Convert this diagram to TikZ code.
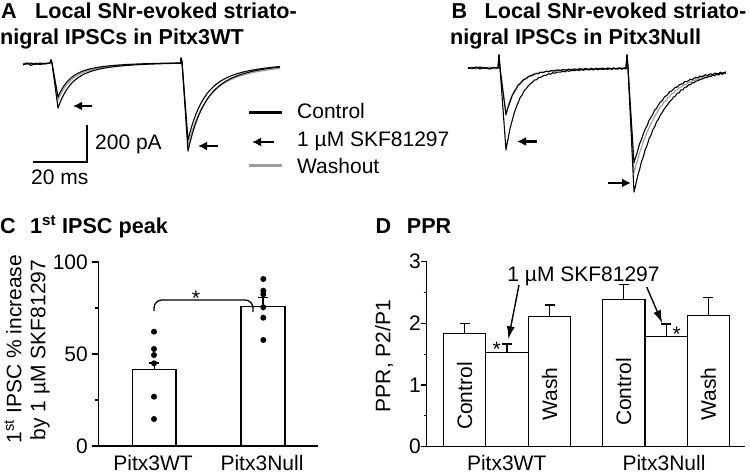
\documentclass[tikz,border=0pt]{standalone}
\usepackage{fontspec}
\setmainfont{Liberation Sans}
\usetikzlibrary{arrows.meta}
\begin{document}
\begin{tikzpicture}[x=1pt,y=-1pt,
  tx/.style={font=\fontsize{21}{24}\selectfont, inner sep=0pt},
  ttl/.style={font=\fontsize{21.6}{25}\selectfont\bfseries, inner sep=0pt, anchor=base west},
  axisline/.style={line width=1.3pt},
  barbox/.style={line width=1.3pt, draw=black, fill=white},
  errbar/.style={line width=1.3pt},
  trc/.style={line width=1.1pt, line join=round},
  wash/.style={trc, draw=black!38},
  bigarrow/.style={line width=2.6pt, -{Latex[length=9pt,width=9pt]}},
  thinarrow/.style={line width=1.4pt, -{Latex[length=13pt,width=8pt]}},
  scalebar/.style={line width=2.4pt}
]
\useasboundingbox (0,0) rectangle (750,473);

% ---------- Panel A ----------
\node[ttl] (lA) at (1,18.5) {A};
\node[ttl] (tA1) at (35,18.5) {Local SNr-evoked striato-};
\node[ttl] (tA2) at (0,45) {nigral IPSCs in Pitx3WT};

% traces A
\draw[wash] (23,64) -- (27,62.5) -- (31,64.5) -- (35,63) -- (40,64) -- (45,63) -- (50,63.5) -- (51,59) -- (52,63) -- (58,100)
  -- plot[domain=58:181,samples=60] (\x,{62.5+37.5*(0.65*exp(-(\x-58)/12)+0.35*exp(-(\x-58)/40))})
  -- (181,58) -- (182,62) -- (188,145)
  -- plot[domain=188:280,samples=50] (\x,{63.5+81.5*(0.65*exp(-(\x-188)/16)+0.35*exp(-(\x-188)/52))});
\draw[trc] (23,65) -- (27,63) -- (31,65.5) -- (35,63.5) -- (40,64.5) -- (45,63.5) -- (50,63) -- (51,60) -- (52,63) -- (58,97)
  -- plot[domain=58:181,samples=60] (\x,{62.5+34.5*(0.65*exp(-(\x-58)/11)+0.35*exp(-(\x-58)/38))})
  -- (181,58) -- (182,62) -- (188,140)
  -- plot[domain=188:280,samples=50] (\x,{62.5+77.5*(0.65*exp(-(\x-188)/14)+0.35*exp(-(\x-188)/48))});
\draw[trc] (23,64) -- (27,64) -- (31,63) -- (35,64.5) -- (40,63) -- (45,64) -- (50,63) -- (51,60) -- (52,63) -- (58,108)
  -- plot[domain=58:181,samples=60] (\x,{62.5+45.5*(0.65*exp(-(\x-58)/12)+0.35*exp(-(\x-58)/40))})
  -- (181,58) -- (182,62) -- (188,151)
  -- plot[domain=188:280,samples=50] (\x,{62+89*(0.65*exp(-(\x-188)/15)+0.35*exp(-(\x-188)/50))});

\coordinate (aA1s) at (92,106);  \coordinate (aA1e) at (73,106);
\coordinate (aA2s) at (218,146); \coordinate (aA2e) at (198,146);
\draw[bigarrow] (aA1s) -- (aA1e);
\draw[bigarrow] (aA2s) -- (aA2e);

% scale bar
\coordinate (sbT) at (87,125); \coordinate (sbC) at (87,162); \coordinate (sbL) at (33,162);
\draw[scalebar] (sbT) -- (sbC) -- (sbL);
\node[tx, anchor=base west] (sbV) at (95,150) {200 pA};
\node[tx, anchor=base west] (sbH) at (31,185) {20 ms};

% legend
\coordinate (lg1a) at (249,112.5); \coordinate (lg1b) at (282,112.5);
\draw[line width=2.2pt] (lg1a) -- (lg1b);
\node[tx, anchor=base west] (lgC) at (297,118.3) {Control};
\coordinate (lg2a) at (274,142); \coordinate (lg2b) at (252,142);
\draw[bigarrow] (lg2a) -- (lg2b);
\node[tx, anchor=base west] (lgS) at (297,146.7) {1 µM SKF81297};
\coordinate (lg3a) at (249,165.5); \coordinate (lg3b) at (282,165.5);
\draw[line width=2.2pt, draw=black!38] (lg3a) -- (lg3b);
\node[tx, anchor=base west] (lgW) at (297,173.3) {Washout};

% ---------- Panel B ----------
\node[ttl] (lB) at (451.5,18.5) {B};
\node[ttl] (tB1) at (484.5,18.5) {Local SNr-evoked striato-};
\node[ttl] (tB2) at (450,45) {nigral IPSCs in Pitx3Null};

\draw[wash] (468,68) -- (472,67) -- (476,69) -- (480,67.5) -- (485,68.5) -- (490,67) -- (494,69) -- (498,68) -- (499,55) -- (500,68) -- (506,113)
  -- plot[domain=506:626,samples=60] (\x,{68+0.6*sin((\x-500)*97)+45*(0.8*exp(-(\x-506)/10)+0.2*exp(-(\x-506)/35))})
  -- (627,55) -- (628,68) -- (634,173)
  -- plot[domain=634:726,samples=50] (\x,{70+0.7*sin((\x-600)*89)+103*exp(-(\x-634)/26)});
\draw[trc] (468,68.5) -- (472,68) -- (476,67) -- (480,69) -- (485,67.5) -- (490,68.5) -- (494,67.5) -- (498,68) -- (499,55) -- (500,68) -- (506,115)
  -- plot[domain=506:626,samples=60] (\x,{68+0.6*sin((\x-500)*113)+47*(0.8*exp(-(\x-506)/10)+0.2*exp(-(\x-506)/35))})
  -- (627,55) -- (628,68) -- (634,163)
  -- plot[domain=634:726,samples=50] (\x,{70+0.7*sin((\x-600)*71)+93*exp(-(\x-634)/25)});
\draw[trc] (468,67.5) -- (472,68.5) -- (476,68) -- (480,67) -- (485,68) -- (490,69) -- (494,67.5) -- (498,68) -- (499,55) -- (500,68) -- (506,150)
  -- plot[domain=506:626,samples=60] (\x,{68+0.6*sin((\x-500)*101)+82*(0.85*exp(-(\x-506)/12)+0.15*exp(-(\x-506)/40))})
  -- (627,55) -- (628,68) -- (634,192)
  -- plot[domain=634:726,samples=50] (\x,{69+0.7*sin((\x-600)*101)+123*exp(-(\x-634)/27)});

\coordinate (aB1s) at (537,141.5); \coordinate (aB1e) at (517,141.5);
\coordinate (aB2s) at (608,183);   \coordinate (aB2e) at (631,183);
\draw[bigarrow] (aB1s) -- (aB1e);
\draw[bigarrow] (aB2s) -- (aB2e);

% ---------- Panel C ----------
\node[ttl] (lC) at (0,233.3) {C};
\node[ttl] (tC) at (30,233.3) {1\textsuperscript{st} IPSC peak};

\node[tx, rotate=90] (ylC1) at (13,349) {1\textsuperscript{st} IPSC \% increase};
\node[tx, rotate=90] (ylC2) at (40,350) {by 1 µM SKF81297};

\draw[axisline] (98.7,262) -- (98.7,446) -- (318,446);
\foreach \yy in {262,354,446} \draw[axisline] (92,\yy) -- (98.7,\yy);
\foreach \yy in {308,400} \draw[axisline] (95,\yy) -- (98.7,\yy);
\node[tx, anchor=east] (c100) at (88,262) {100};
\node[tx, anchor=east] (c50)  at (88,354) {50};
\node[tx, anchor=east] (c0)   at (88,446) {0};

\draw[barbox] (132.7,446) rectangle (176,369.3);
\draw[errbar] (154.3,369.3) -- (154.3,363) (149.3,363) -- (159.3,363);
\draw[barbox] (241,446) rectangle (285,306.7);
\draw[errbar] (263,306.7) -- (263,297.7) (258,297.7) -- (268,297.7);

\foreach \yy in {331.7,349,355,363.3,396.7,419} \fill (154,\yy) circle (3pt);
\foreach \yy in {279,290.7,294.3,307.3,317.7,340} \fill (263.3,\yy) circle (3pt);

\coordinate (brL) at (154,311); \coordinate (brR) at (253,312);
\draw[line width=1.3pt, rounded corners=8pt] (brL) -- (154,300) -- (253,300) -- (brR);
\node[tx, anchor=base] (starC) at (196,305.5) {*};

\node[tx, anchor=base] (xC1) at (153,470) {Pitx3WT};
\node[tx, anchor=base] (xC2) at (262,470) {Pitx3Null};

% ---------- Panel D ----------
\node[ttl] (lD) at (375.5,233.3) {D};
\node[ttl] (tD) at (406.7,233.3) {PPR};

\node[tx, rotate=90] (ylD) at (384,356) {PPR, P2/P1};

\draw[axisline] (426.7,261.7) -- (426.7,446.7) -- (745,446.7);
\foreach \yy in {261.7,323.3,385,446.7} \draw[axisline] (420.7,\yy) -- (426.7,\yy);
\foreach \yy in {292.5,354.2,415.8} \draw[axisline] (423.7,\yy) -- (426.7,\yy);
\node[tx, anchor=east] (d3) at (421,261.7) {3};
\node[tx, anchor=east] (d2) at (421,323.3) {2};
\node[tx, anchor=east] (d1) at (421,385) {1};
\node[tx, anchor=east] (d0) at (421,446.7) {0};

% bars: x1, x2, top, err
\foreach \xa/\xb/\tp/\er in {443.3/485.7/333.3/323.3, 485.7/528.3/352.7/344, 528.3/570.7/316.7/305,
                              602.3/645/299.3/284.3, 645/687.3/336.7/324, 687.3/729.3/315.3/297.7} {
  \draw[barbox] (\xa,446.7) rectangle (\xb,\tp);
  \pgfmathsetmacro\xc{(\xa+\xb)/2}
  \draw[errbar] (\xc,\tp) -- (\xc,\er) (\xc-5,\er) -- (\xc+5,\er);
}
\node[tx, rotate=90] (dl1) at (464.5,396) {Control};
\node[tx, rotate=90] (dl3) at (549.5,394) {Wash};
\node[tx, rotate=90] (dl4) at (623.6,392) {Control};
\node[tx, rotate=90] (dl6) at (708.3,394) {Wash};

\node[tx, anchor=base] (starD1) at (496.7,356.5) {*};
\node[tx, anchor=base] (starD2) at (676.7,341.7) {*};

\node[tx, anchor=base] (skf) at (583.5,282) {1 µM SKF81297};
\coordinate (dA1s) at (519,285);   \coordinate (dA1e) at (508.3,339.3);
\coordinate (dA2s) at (646.7,287); \coordinate (dA2e) at (662.3,323.3);
\draw[thinarrow] (dA1s) -- (dA1e);
\draw[thinarrow] (dA2s) -- (dA2e);

\node[tx, anchor=base] (xD1) at (506.7,470) {Pitx3WT};
\node[tx, anchor=base] (xD2) at (664,470) {Pitx3Null};
\end{tikzpicture}
\end{document}
